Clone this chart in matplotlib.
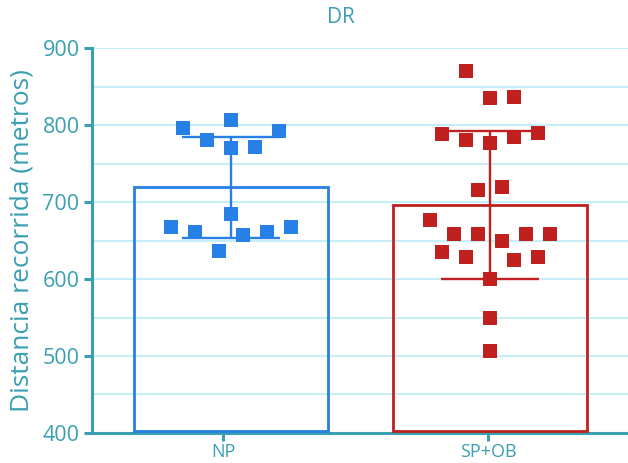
import numpy as np
import matplotlib
matplotlib.use('Agg')
import matplotlib.pyplot as plt
from matplotlib.ticker import MultipleLocator

plt.rcParams['font.family'] = ['Open Sans', 'DejaVu Sans']

# data
groups = ['NP', 'SP+OB']
means = [719, 696]
sds = [66, 96]

np_vals = [796, 781, 807, 770, 772, 792, 685, 668, 661, 657, 661, 668, 637]
np_slot = [-4, -2, 0, 0, 2, 4, 0, -5, -3, 1, 3, 5, -1]

spob_vals = [870, 835, 836, 788, 780, 776, 784, 790, 716, 720, 677, 658,
             658, 649, 658, 659, 635, 628, 625, 628, 600, 549, 507]
spob_slot = [-2, 0, 2, -4, -2, 0, 2, 4, -1, 1, -5, -3,
             -1, 1, 3, 5, -4, -2, 2, 4, 0, 0, 0]

teal = '#3A9FB1'
grid_c = '#C6EEF6'
colors = ['#2680E6', '#C0201E']

fig = plt.figure(figsize=(6.28, 4.63), dpi=100)
ax = fig.add_axes([0.1465, 0.0648, 0.8535, 0.8315])

x = np.arange(len(groups))
ax.bar(x, [m - 402 for m in means], bottom=402, width=0.75,
       facecolor='none', edgecolor=colors, linewidth=2, zorder=3)
for i in range(len(groups)):
    ax.errorbar(x[i], means[i], yerr=sds[i], color=colors[i], lw=1.7,
                capsize=35, capthick=1.7, zorder=4)

step = 0.0463
for i, (vals, slots) in enumerate([(np_vals, np_slot), (spob_vals, spob_slot)]):
    ax.scatter(x[i] + np.array(slots) * step, vals, marker='s', s=112,
               color=colors[i], linewidths=0, zorder=5)

ax.set_xlim(-0.537, 1.533)
ax.set_ylim(400, 900)
ax.yaxis.set_major_locator(MultipleLocator(100))
ax.yaxis.set_minor_locator(MultipleLocator(50))
ax.grid(axis='y', which='both', color=grid_c, lw=1.5, zorder=0)
ax.set_axisbelow(True)

ax.set_xticks(x - [0.03, 0.008])
ax.set_xticklabels(groups)
for s in ['top', 'right']:
    ax.spines[s].set_visible(False)
for s in ['left', 'bottom']:
    ax.spines[s].set_color(teal)
    ax.spines[s].set_linewidth(2.2)
ax.tick_params(axis='y', which='major', colors=teal, labelsize=15.5,
               length=6, width=2.2, pad=3)
ax.tick_params(axis='y', which='minor', length=0)
ax.tick_params(axis='x', colors=teal, labelsize=13, length=6, width=2.2, pad=1)

ax.set_ylabel('Distancia recorrida (metros)', color=teal, fontsize=19, labelpad=6)
ax.set_title('DR', color=teal, fontsize=15, pad=18, x=0.465)

fig.savefig('out.png', dpi=100)
